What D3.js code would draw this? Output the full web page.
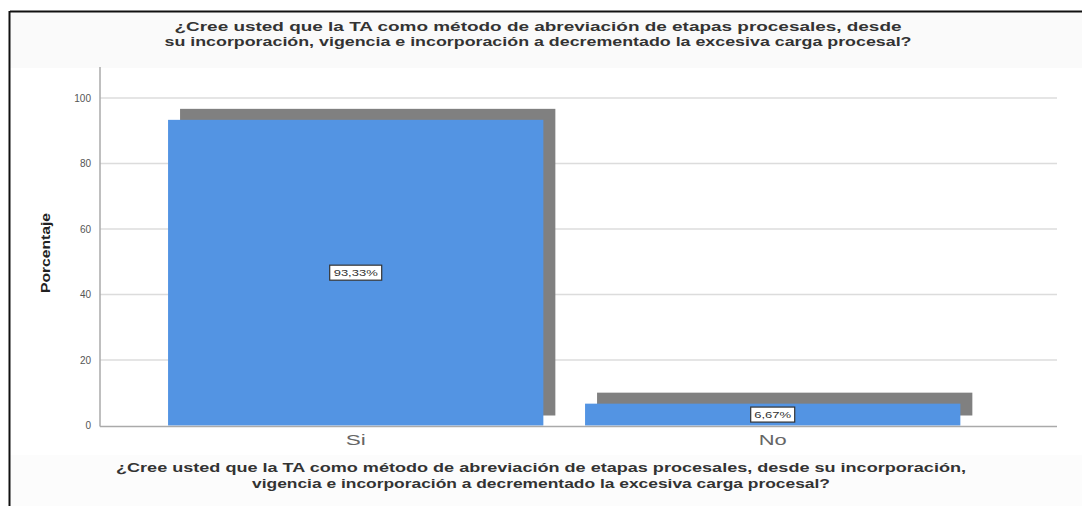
<!DOCTYPE html>
<html>
<head>
<meta charset="utf-8">
<script src="https://cdn.jsdelivr.net/npm/d3@7"></script>
<style>
  html, body { margin: 0; padding: 0; background: #fff; }
  svg { display: block; font-family: "Liberation Sans", Arial, sans-serif; }
</style>
</head>
<body>
<svg id="chart" width="1082" height="506"></svg>
<script>
const categories = ["Si", "No"];
const values = [93.33, 6.67];
const valueLabels = ["93,33%", "6,67%"];
const yTicks = [0, 20, 40, 60, 80, 100];
const titleLines = [
  "¿Cree usted que la TA como método de abreviación de etapas procesales, desde",
  "su incorporación, vigencia e incorporación a decrementado la excesiva carga procesal?"
];
const xTitleLines = [
  "¿Cree usted que la TA como método de abreviación de etapas procesales, desde su incorporación,",
  "vigencia e incorporación a decrementado la excesiva carga procesal?"
];
const yTitle = "Porcentaje";

const svg = d3.select("#chart");

// background bands & frame
svg.append("rect").attr("x", 10).attr("y", 12).attr("width", 1072).attr("height", 56).attr("fill", "#fafafa");
svg.append("rect").attr("x", 10).attr("y", 455).attr("width", 1072).attr("height", 51).attr("fill", "#fcfcfc");
svg.append("line").attr("x1", 10).attr("x2", 1082).attr("y1", 11.5).attr("y2", 11.5).attr("stroke", "#111").attr("stroke-width", 2);
svg.append("line").attr("x1", 9.5).attr("x2", 9.5).attr("y1", 11).attr("y2", 506).attr("stroke", "#111").attr("stroke-width", 2);

const y = d3.scaleLinear().domain([0, 100]).range([425.5, 98]);
const x = d3.scaleBand().domain(categories).range([147.2, 981.2]).paddingInner(0.1).paddingOuter(0.05);

const plotLeft = 100, plotRight = 1057;

// gridlines
svg.append("g").selectAll("line").data(yTicks.filter(d => d > 0)).join("line")
  .attr("x1", plotLeft).attr("x2", plotRight)
  .attr("y1", d => y(d)).attr("y2", d => y(d))
  .attr("stroke", "#dcdcdc").attr("stroke-width", 1.5);

// y axis
const yAxis = d3.axisLeft(y).tickValues(yTicks).tickSize(0).tickPadding(9);
const gy = svg.append("g").attr("transform", `translate(${plotLeft},0)`).call(yAxis);
gy.select(".domain").remove();
gy.selectAll("text").attr("fill", "#555").attr("font-size", 10);
svg.append("line").attr("x1", plotLeft).attr("x2", plotLeft).attr("y1", 67).attr("y2", 426.5)
  .attr("stroke", "#aaa").attr("stroke-width", 1.5);

// shadows
const shOff = 12, shUp = 11;
svg.append("g").selectAll("rect").data(values).join("rect")
  .attr("x", (d, i) => x(categories[i]) + shOff)
  .attr("y", d => y(d) - shUp)
  .attr("width", x.bandwidth())
  .attr("height", d => y(0) - 10 - (y(d) - shUp))
  .attr("fill", "#808080");

// bars
svg.append("g").selectAll("rect").data(values).join("rect")
  .attr("x", (d, i) => x(categories[i]))
  .attr("y", d => y(d))
  .attr("width", x.bandwidth())
  .attr("height", d => y(0) - y(d))
  .attr("fill", "#5394e3");

// x axis
const xAxis = d3.axisBottom(x).tickSize(0).tickPadding(10);
const gx = svg.append("g").attr("transform", `translate(0,${y(0)})`).call(xAxis);
gx.select(".domain").remove();
gx.selectAll("text").attr("fill", "#666").attr("font-size", 14)
  .attr("textLength", d => d === "Si" ? 20 : 28).attr("lengthAdjust", "spacingAndGlyphs");
svg.append("line").attr("x1", plotLeft).attr("x2", plotRight).attr("y1", 426.5).attr("y2", 426.5)
  .attr("stroke", "#aaa").attr("stroke-width", 1.5);

// value labels
const lab = svg.append("g").selectAll("g").data(values).join("g")
  .attr("transform", (d, i) => `translate(${x(categories[i]) + x.bandwidth() / 2},${(y(d) + y(0)) / 2})`);
lab.append("rect")
  .attr("x", (d, i) => i === 0 ? -26 : -22).attr("y", -7.5)
  .attr("width", (d, i) => i === 0 ? 52 : 44).attr("height", 15)
  .attr("fill", "#fff").attr("stroke", "#333").attr("stroke-width", 1.2);
lab.append("text").text((d, i) => valueLabels[i])
  .attr("text-anchor", "middle").attr("dy", "0.35em")
  .attr("font-size", 9.5).attr("fill", "#333")
  .attr("textLength", (d, i) => i === 0 ? 44 : 37).attr("lengthAdjust", "spacingAndGlyphs");

// title
const titleLens = [727, 747];
svg.append("g").selectAll("text").data(titleLines).join("text")
  .attr("x", 538).attr("y", (d, i) => 31 + i * 15)
  .attr("text-anchor", "middle").attr("font-size", 13).attr("font-weight", "bold").attr("fill", "#333")
  .attr("textLength", (d, i) => titleLens[i]).attr("lengthAdjust", "spacingAndGlyphs")
  .text(d => d);

// x axis title
const xtLens = [850, 578];
svg.append("g").selectAll("text").data(xTitleLines).join("text")
  .attr("x", 541).attr("y", (d, i) => 472 + i * 15.5)
  .attr("text-anchor", "middle").attr("font-size", 13).attr("font-weight", "bold").attr("fill", "#333")
  .attr("textLength", (d, i) => xtLens[i]).attr("lengthAdjust", "spacingAndGlyphs")
  .text(d => d);

// y axis title
svg.append("text").attr("transform", "translate(50,253) rotate(-90)")
  .attr("text-anchor", "middle").attr("font-size", 13).attr("font-weight", "bold").attr("fill", "#222")
  .attr("textLength", 80).attr("lengthAdjust", "spacingAndGlyphs")
  .text(yTitle);
</script>
</body>
</html>
